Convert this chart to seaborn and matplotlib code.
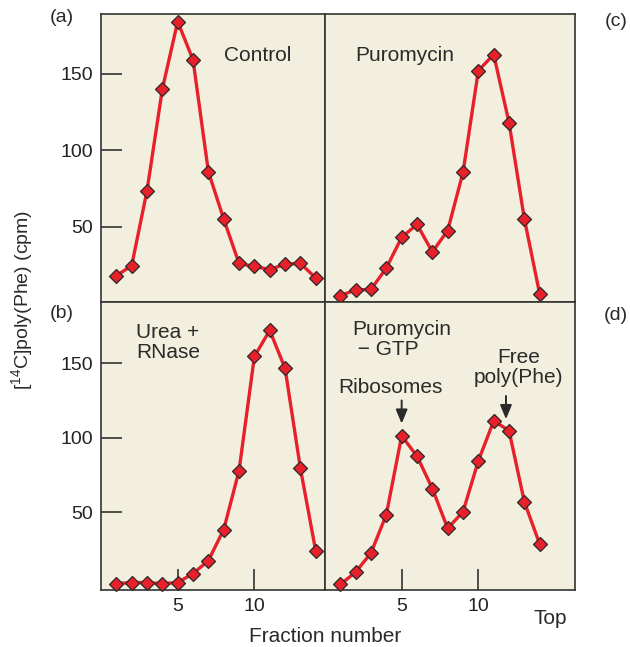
import numpy as np
import pandas as pd
import seaborn as sns
import matplotlib.pyplot as plt

# Fraction numbers (bottom -> top of gradient)
fractions = list(range(1, 15))

# [14C]poly(Phe) counts
control = [18, 24.5, 73.5, 140, 184, 159, 86, 55, 26, 24, 22, 25.5, 26, 16.5]
puromycin = [5, 8.7, 9, 23, 43, 51.5, 33.5, 47.5, 85.5, 152, 162.5, 118, 55, 6]
urea_rnase = [2.3, 3, 3, 2.3, 3, 9, 17.7, 38.5, 78, 154.5, 172, 146.5, 79.5, 24]
puro_gtp = [1.7, 10, 22.8, 48.5, 101.3, 87.7, 66, 39.3, 50.4, 84.6, 111.3, 104.8, 57, 28.7]

sns.set_style("white")
plt.rcParams['font.family'] = ['Liberation Sans', 'DejaVu Sans']
plt.rcParams['mathtext.default'] = 'regular'

bg = '#f2efde'
red = '#e8202a'
dark = '#2a2a2a'

fig = plt.figure(figsize=(6.3, 6.47), dpi=100)
gs = fig.add_gridspec(2, 2, width_ratios=[14.6, 16.3], hspace=0, wspace=0,
                      left=0.1603, right=0.9127, top=0.9784, bottom=0.0881)
axes = [[fig.add_subplot(gs[i, j]) for j in range(2)] for i in range(2)]

panels = [(0, 0, control), (0, 1, puromycin), (1, 0, urea_rnase), (1, 1, puro_gtp)]
for r, c, vals in panels:
    ax = axes[r][c]
    df = pd.DataFrame({'fraction': fractions, 'cpm': vals})
    sns.lineplot(data=df, x='fraction', y='cpm', ax=ax, color=red, linewidth=2.4,
                 marker='D', markersize=7.5, markerfacecolor=red,
                 markeredgecolor=dark, markeredgewidth=0.9, clip_on=False, zorder=3)
    ax.set_facecolor(bg)
    ax.set_xlim(0, 14.6 if c == 0 else 16.3)
    ax.set_ylim((0.8, 189) if r == 0 else (-2, 191))
    ax.set_xlabel('')
    ax.set_ylabel('')
    for s in ax.spines.values():
        s.set_color('#333333')
        s.set_linewidth(1.2)
    ax.tick_params(direction='in', length=15, width=1.2, color='#333333',
                   labelsize=14, labelcolor='#222222', pad=6,
                   left=True, bottom=True)
    if c == 0:
        ax.set_yticks([50, 100, 150])
    else:
        ax.set_yticks([])
    if r == 1:
        ax.set_xticks([5, 10])
    else:
        ax.set_xticks([])

fs = 15
axes[0][0].text(8.0, 162, 'Control', fontsize=fs, color=dark, va='center')
axes[0][1].text(1.95, 162, 'Puromycin', fontsize=fs, color=dark, va='center')
axes[1][0].text(2.3, 164, 'Urea +\nRNase', fontsize=fs, color=dark, va='center',
                linespacing=1.1)
axes[1][1].text(1.75, 166, 'Puromycin\n \u2212 GTP', fontsize=fs, color=dark,
                va='center', linespacing=1.1)

ax = axes[1][1]
ax.text(4.3, 134, 'Ribosomes', fontsize=fs, color=dark, ha='center', va='center')
ax.text(12.6, 147, 'Free\npoly(Phe)', fontsize=fs, color=dark, ha='center',
        va='center', linespacing=1.1)
arrow = dict(arrowstyle='-|>,head_length=0.6,head_width=0.25', color=dark, lw=1.4,
             mutation_scale=14, shrinkA=0, shrinkB=0)
ax.annotate('', xy=(5, 109.5), xytext=(5, 125), arrowprops=arrow)
ax.annotate('', xy=(11.8, 112.5), xytext=(11.8, 128), arrowprops=arrow)

# panel letters and axis text
for lab, x, y in [('(a)', 62, 18), ('(b)', 62, 314), ('(c)', 616, 22), ('(d)', 616, 315)]:
    fig.text(x / 630, 1 - y / 647, lab, fontsize=14, color=dark, ha='center', va='center')
fig.text(22 / 630, 1 - 300 / 647, '[$^{14}$C]poly(Phe) (cpm)', fontsize=14, color=dark,
         rotation=90, ha='center', va='center')
fig.text(325 / 630, 1 - 636 / 647, 'Fraction number', fontsize=15, color=dark,
         ha='center', va='center')
fig.text(550 / 630, 1 - 619 / 647, 'Top', fontsize=15, color=dark, ha='center', va='center')

fig.savefig('out.png', dpi=100)
